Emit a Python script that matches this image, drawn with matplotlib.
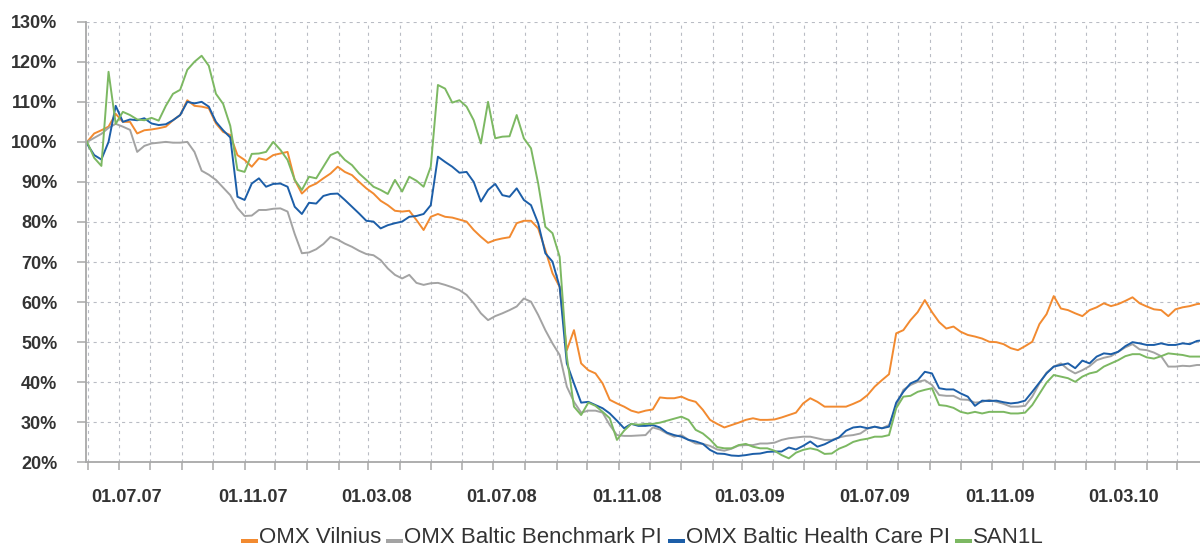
import matplotlib
matplotlib.use('Agg')
import matplotlib.pyplot as plt
import matplotlib.dates as mdates
import matplotlib.transforms as mtransforms
from matplotlib.patches import Rectangle
from matplotlib.legend_handler import HandlerBase
from matplotlib.lines import Line2D
import pandas as pd

plt.rcParams['font.family'] = ['Liberation Sans', 'DejaVu Sans']

# weekly closes, indexed to 100% at the start
dates = pd.date_range('2007-05-31', periods=157, freq='7D')

vilnius = [100, 102.1, 102.9, 103.8, 107, 105, 105, 102.1, 102.9, 103.1,
           103.4, 103.8, 105.4, 106.7, 110.4, 109, 108.8, 108.4, 104.6, 102.5,
           101.7, 96.7, 95.5, 93.8, 95.9, 95.5, 96.7, 97.1, 97.5, 90.5,
           87.1, 88.8, 89.6, 90.9, 92.1, 93.8, 92.5, 91.7, 90, 88.4,
           87.1, 85.3, 84.2, 82.8, 82.6, 82.8, 80.5, 78, 81.3, 82,
           81.3, 81.1, 80.6, 80.1, 78, 76.3, 74.8, 75.5, 75.9, 76.2,
           79.7, 80.3, 80.3, 78.4, 73, 67.2, 63.8, 48, 53, 44.7,
           43, 42.2, 39.7, 35.6, 34.7, 33.9, 32.9, 32.4, 32.9, 33.2,
           36.2, 36, 36, 36.4, 35.6, 35.1, 33.1, 30.6, 29.6, 28.7,
           29.3, 29.9, 30.6, 31, 30.6, 30.6, 30.7, 31.2, 31.8, 32.4,
           34.7, 36, 35.1, 33.9, 33.9, 33.9, 33.9, 34.6, 35.4, 36.8,
           38.9, 40.5, 42, 52.2, 53, 55.5, 57.5, 60.5, 57.5, 55,
           53.4, 53.9, 52.6, 51.8, 51.4, 50.9, 50.1, 50, 49.5, 48.5,
           48, 49, 50.1, 54.5, 57, 61.5, 58.4, 58, 57.2, 56.5,
           58, 58.7, 59.7, 59, 59.5, 60.3, 61.2, 59.7, 58.9, 58.2,
           58, 56.5, 58.2, 58.7, 59, 59.5, 59.7]

benchmark = [100, 101, 102, 103.5, 104.5, 103.8, 103, 97.5, 99, 99.6,
             99.8, 100, 99.8, 99.8, 100, 97.5, 92.8, 91.8, 90.5, 88.6,
             86.7, 83.5, 81.5, 81.6, 83, 83, 83.3, 83.4, 82.6, 77,
             72.2, 72.4, 73.2, 74.5, 76.3, 75.6, 74.6, 73.8, 72.8, 72,
             71.7, 70.5, 68.4, 66.8, 65.9, 66.8, 64.8, 64.3, 64.7, 64.8,
             64.3, 63.7, 63, 61.8, 59.7, 57.2, 55.5, 56.5, 57.2, 58,
             58.9, 60.9, 60.1, 56.8, 53, 49.7, 46.8, 38.9, 35.1, 32.4,
             32.9, 32.9, 32.4, 29.3, 26.8, 26.6, 26.6, 26.7, 26.8, 28.7,
             28.2, 27.2, 26.4, 26.8, 25.6, 24.7, 24.6, 24.1, 23.2, 22.9,
             23.4, 24.2, 24.3, 24.3, 24.7, 24.7, 24.9, 25.6, 26, 26.2,
             26.4, 26.4, 26, 25.6, 25.6, 26.2, 26.6, 26.8, 27.2, 28.4,
             28.9, 28.5, 29.3, 33.9, 38.1, 39.3, 40.1, 40.5, 39.3, 36.8,
             36.6, 36.6, 35.7, 35.6, 34.9, 35.1, 35.6, 35.1, 34.6, 33.9,
             33.9, 34.1, 36.4, 39.7, 42.4, 43.9, 44.7, 43.2, 42.2, 43,
             44, 45.5, 46.1, 46.5, 47.6, 48.7, 49.5, 48.2, 48, 47.4,
             46.5, 43.9, 43.9, 44.1, 44, 44.3, 44.3]

health_care = [99.5, 96.7, 95.6, 100, 109, 105, 105.6, 105.4, 105.9, 104.6,
               104.2, 104.4, 105.4, 106.7, 110, 109.6, 110, 108.8, 105, 102.9,
               101.1, 86.3, 85.5, 89.6, 90.9, 88.8, 89.5, 89.6, 88.8, 83.8,
               82, 84.8, 84.6, 86.5, 87, 87.1, 85.5, 83.8, 82.1, 80.3,
               80.1, 78.4, 79.2, 79.7, 80.1, 81.3, 81.5, 82, 84.2, 96.3,
               95, 93.8, 92.3, 92.5, 90, 85.1, 88, 89.5, 86.7, 86.3,
               88.4, 85.5, 84.2, 79.7, 72.2, 70.1, 63.8, 44.7, 39.7, 34.9,
               35.1, 34.3, 33.5, 32.2, 30.4, 28.5, 29.6, 29.1, 29.1, 29.3,
               28.7, 27.4, 26.8, 26.4, 25.6, 25.2, 24.6, 23.1, 22.2, 22.1,
               21.7, 21.6, 21.8, 22.1, 22.2, 22.6, 22.7, 22.7, 23.7, 23.2,
               24.1, 25.2, 23.9, 24.5, 25.4, 26.2, 27.9, 28.7, 28.9, 28.5,
               28.9, 28.5, 28.9, 34.9, 37.6, 39.7, 40.5, 42.6, 42.2, 38.5,
               38.2, 38.2, 37.2, 36.4, 34.1, 35.4, 35.3, 35.4, 35, 34.7,
               34.9, 35.4, 37.6, 39.9, 42.2, 43.9, 44.3, 44.7, 43.5, 45.4,
               44.7, 46.4, 47.2, 47, 47.6, 49, 50, 49.7, 49.3, 49.3,
               49.7, 49.3, 49.3, 49.7, 49.5, 50.3, 50.5]

san1l = [100, 96, 94, 117.5, 104.5, 107.5, 106.7, 105.6, 105.4, 106,
         105.3, 109, 112, 113, 118, 120, 121.5, 119, 112, 109.5,
         104, 93, 92.5, 97, 97.1, 97.5, 100, 98, 95.5, 90.5,
         88, 91.3, 90.9, 93.8, 96.7, 97.5, 95.5, 94.2, 92.1, 90.5,
         88.8, 88, 87, 90.5, 87.6, 91.3, 90.3, 88.8, 93.8, 114.2,
         113.3, 109.8, 110.4, 108.8, 105.4, 99.6, 110, 100.9, 101.3, 101.4,
         106.7, 100.9, 98.4, 89.6, 78.8, 77.2, 71.3, 46.4, 33.9, 31.8,
         34.9, 34.1, 32.6, 31, 25.6, 27.9, 29.6, 29.4, 29.6, 29.6,
         29.9, 30.4, 30.9, 31.4, 30.6, 28.1, 27.2, 25.7, 23.8, 23.5,
         23.5, 24.3, 24.6, 23.9, 23.5, 23.5, 22.9, 21.8, 21, 22.4,
         23.1, 23.5, 23.1, 22.1, 22.2, 23.4, 24.1, 25.1, 25.6, 25.9,
         26.4, 26.4, 26.8, 33.5, 36.4, 36.6, 37.6, 38.1, 38.5, 34.3,
         34.1, 33.6, 32.6, 32.2, 32.6, 32.2, 32.6, 32.6, 32.6, 32.2,
         32.2, 32.4, 34.3, 37.1, 39.9, 41.8, 41.4, 41, 40.1, 41.4,
         42.2, 42.6, 43.9, 44.7, 45.5, 46.5, 47, 47, 46.2, 45.9,
         46.5, 47.2, 47, 46.8, 46.4, 46.4, 46.4]

names = ['OMX Vilnius', 'OMX Baltic Benchmark PI', 'OMX Baltic Health Care PI', 'SAN1L']
colors = ['#f28a30', '#a3a3a3', '#1c5ea8', '#7cb862']
yticks = [20, 30, 40, 50, 60, 70, 80, 90, 100, 110, 120, 130]
axis_grey = '#a8a8a8'
text_col = '#333333'


class BarHandler(HandlerBase):
    # legend key drawn as a short thick bar sitting on the text baseline
    def create_artists(self, legend, orig_handle, xdescent, ydescent,
                       width, height, fontsize, trans):
        bar = Rectangle((-xdescent, 0), width, fontsize * 0.2,
                        facecolor=orig_handle.get_color(), edgecolor='none',
                        transform=trans)
        return [bar]


fig = plt.figure(figsize=(12, 5.47), dpi=100)
ax = fig.add_axes([0.0717, 0.1548, 0.9283, 0.8055])

lines = []
for vals, c in zip([vilnius, benchmark, health_care, san1l], colors):
    ln, = ax.plot(dates, vals, color=c, lw=1.4)
    lines.append(ln)

ax.set_ylim(20, 130)
ax.set_xlim(pd.Timestamp('2007-05-30'), pd.Timestamp('2010-05-23'))
ax.set_yticks(yticks)
ax.set_yticklabels([f'{v}%' for v in yticks])

ax.xaxis.set_major_locator(mdates.MonthLocator(bymonth=[3, 7, 11]))
ax.xaxis.set_major_formatter(mdates.DateFormatter('%d.%m.%y'))
ax.xaxis.set_minor_locator(mdates.MonthLocator())

grid_kw = dict(color='#b9bcc4', lw=0.8, linestyle=(0, (2.8, 3.6)))
ax.grid(True, axis='y', **grid_kw)
ax.grid(True, axis='x', which='both', **grid_kw)
ax.set_axisbelow(True)

for s in ['top', 'right']:
    ax.spines[s].set_visible(False)
for s in ['left', 'bottom']:
    ax.spines[s].set_color(axis_grey)
    ax.spines[s].set_linewidth(1.3)

ax.tick_params(axis='x', which='both', length=5.8, width=1.1, color=axis_grey,
               pad=13.5, labelsize=13, labelcolor=text_col)
ax.tick_params(axis='y', length=6.3, width=1.1, color=axis_grey,
               pad=14.4, labelsize=13, labelcolor=text_col)

# date labels sit a little to the right of their tick
shift = mtransforms.ScaledTranslation(8 / 100, 0, fig.dpi_scale_trans)
for lab in ax.get_xticklabels():
    lab.set_transform(lab.get_transform() + shift)
for lab in ax.get_xticklabels() + ax.get_yticklabels():
    lab.set_fontweight('bold')

fig.legend(lines, names, loc='center', bbox_to_anchor=(0.5353, 0.0165),
           ncol=4, frameon=False, fontsize=16, handlelength=0.76,
           handletextpad=0.05, columnspacing=0.25, borderpad=0,
           labelcolor=text_col, handler_map={Line2D: BarHandler()})

fig.savefig('out.png', dpi=100)
